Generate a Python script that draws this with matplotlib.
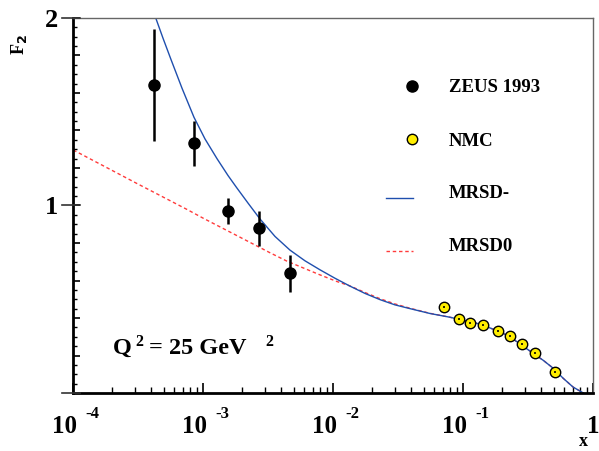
import numpy as np
import matplotlib
matplotlib.use("Agg")
import matplotlib.pyplot as plt
from matplotlib.transforms import blended_transform_factory

plt.rcParams['font.family'] = 'Liberation Serif'
plt.rcParams['font.weight'] = 'bold'

# ZEUS 1993 points
zeus_x = [4.2e-4, 8.5e-4, 1.56e-3, 2.7e-3, 4.7e-3]
zeus_f2 = [1.643, 1.332, 0.971, 0.878, 0.638]
zeus_err = [0.30, 0.12, 0.07, 0.095, 0.10]

# NMC points
nmc_x = [0.0715, 0.093, 0.113, 0.143, 0.185, 0.231, 0.284, 0.360, 0.513]
nmc_f2 = [0.457, 0.396, 0.372, 0.362, 0.332, 0.306, 0.262, 0.212, 0.111]
nmc_err = [0.006] * 9

# MRSD- curve
mrsdm_x = [4.33e-4, 4.92e-4, 5.67e-4, 6.90e-4, 8.53e-4, 1.036e-3, 1.281e-3,
           1.557e-3, 1.816e-3, 2.219e-3, 2.745e-3, 3.580e-3, 4.669e-3,
           6.090e-3, 7.943e-3, 1.036e-2, 1.351e-2, 1.763e-2, 2.298e-2,
           2.998e-2, 3.910e-2, 5.573e-2, 7.943e-2, 0.1274, 0.1613, 0.2042,
           0.2424, 0.2909, 0.3455, 0.4147, 0.4923, 0.5908, 0.7017, 0.8421]
mrsdm_f2 = [2.0, 1.893, 1.779, 1.625, 1.47, 1.355, 1.25, 1.16, 1.095, 1.013,
            0.928, 0.835, 0.762, 0.705, 0.657, 0.612, 0.570, 0.531, 0.498,
            0.470, 0.450, 0.424, 0.404, 0.372, 0.347, 0.318, 0.288, 0.249,
            0.212, 0.174, 0.133, 0.078, 0.032, 0.0]

# MRSD0 curve
mrsd0_x = [1.005e-4, 1.351e-4, 1.763e-4, 2.298e-4, 3.090e-4, 4.124e-4,
           5.573e-4, 7.530e-4, 1.005e-3, 1.351e-3, 1.816e-3, 2.424e-3,
           3.276e-3, 4.427e-3, 5.908e-3, 7.943e-3, 1.068e-2, 1.351e-2,
           1.763e-2, 2.298e-2, 2.998e-2, 3.910e-2, 5.573e-2, 7.943e-2,
           0.1274, 0.1613, 0.2042, 0.2424, 0.2909, 0.3455, 0.4147, 0.4923,
           0.5908, 0.7017, 0.8421]
mrsd0_f2 = [1.296, 1.249, 1.207, 1.165, 1.118, 1.073, 1.026, 0.979, 0.932,
            0.886, 0.840, 0.795, 0.748, 0.703, 0.667, 0.630, 0.595, 0.571,
            0.536, 0.503, 0.475, 0.452, 0.425, 0.404, 0.372, 0.347, 0.318,
            0.288, 0.249, 0.212, 0.174, 0.133, 0.078, 0.032, 0.0]

x_ticks = [1e-4, 1e-3, 1e-2, 1e-1, 1]
x_exps = ['-4', '-3', '-2', '-1', None]

blue = '#1f4fae'
red = '#ff3b3b'

fig = plt.figure(figsize=(5.99, 4.51), dpi=100)
ax = fig.add_axes([73 / 599, 58 / 451, 520 / 599, 375 / 451])

ax.plot(mrsd0_x, mrsd0_f2, color=red, lw=1.0, ls=(0, (2.5, 2)), zorder=2)
ax.plot(mrsdm_x, mrsdm_f2, color=blue, lw=1.0, zorder=2)

ax.errorbar(zeus_x, zeus_f2, yerr=zeus_err, fmt='o', color='black',
            ms=8, lw=1.8, capsize=0, zorder=4)
ax.plot(nmc_x, nmc_f2, 'o', mfc='#ffee00', mec='black', mew=1.0, ms=7.5, zorder=4)
ax.errorbar(nmc_x, nmc_f2, yerr=nmc_err, fmt='none', ecolor='black',
            lw=1.2, capsize=0, zorder=5)

ax.set_xscale('log')
ax.set_xlim(1e-4, 1)
ax.set_ylim(0, 2)

# frame
for s in ['left', 'bottom']:
    ax.spines[s].set_linewidth(2)
    ax.spines[s].set_color('black')
for s in ['top', 'right']:
    ax.spines[s].set_linewidth(1)
    ax.spines[s].set_color('#666666')

# x ticks, labels drawn as "10" plus a raised exponent
ax.set_xticks(x_ticks)
ax.set_xticklabels([''] * len(x_ticks))
ax.xaxis.set_minor_locator(matplotlib.ticker.LogLocator(base=10, subs=np.arange(2, 10)))
ax.xaxis.set_minor_formatter(matplotlib.ticker.NullFormatter())
ax.tick_params(axis='x', which='major', direction='in', length=7, width=1.2, top=False)
ax.tick_params(axis='x', which='minor', direction='in', length=4, width=1.0, top=False)
for xt, ex in zip(x_ticks, x_exps):
    fx = (np.log10(xt) + 4) / 4
    if ex is None:
        ax.text(fx, -40 / 375, '1', transform=ax.transAxes, fontsize=18,
                fontweight='bold', ha='center', va='baseline')
    else:
        ax.text(fx + 4 / 520, -40 / 375, '10', transform=ax.transAxes, fontsize=18,
                fontweight='bold', ha='right', va='baseline')
        ax.text(fx + 12 / 520, -24.7 / 375, ex, transform=ax.transAxes, fontsize=12,
                fontweight='bold', ha='left', va='baseline')

# y ticks
yt = np.arange(0, 2.01, 0.2)
ax.set_yticks(yt)
ax.set_yticklabels(['1' if abs(v - 1) < 1e-6 else '2' if abs(v - 2) < 1e-6 else ''
                    for v in yt])
ax.yaxis.set_minor_locator(matplotlib.ticker.MultipleLocator(0.05))
ax.tick_params(axis='y', which='major', direction='in', length=5, width=1.2,
               labelsize=19, pad=10.5, right=False)
ax.tick_params(axis='y', which='minor', direction='in', length=3, width=1.0, right=False)
tr = blended_transform_factory(ax.transAxes, ax.transData)
for v in [0, 1, 2]:
    ax.plot([-11 / 520, 7 / 520], [v, v], color='#333333', lw=1.2,
            transform=tr, clip_on=False, zorder=6)

# legend drawn by hand
ax.plot([0.652], [0.819], 'o', color='black', ms=8, transform=ax.transAxes)
ax.plot([0.652], [0.677], 'o', mfc='#ffee00', mec='black', mew=1.0, ms=7.5,
        transform=ax.transAxes)
ax.plot([0.602, 0.654], [0.521, 0.521], color=blue, lw=1.0, transform=ax.transAxes)
ax.plot([0.602, 0.654], [0.379, 0.379], color=red, lw=1.0, ls=(0, (2.5, 2)),
        transform=ax.transAxes)
for yb, lab in [(0.802, 'ZEUS 1993'), (0.659, 'NMC'), (0.521, 'MRSD-'), (0.379, 'MRSD0')]:
    ax.text(0.723, yb, lab, transform=ax.transAxes, fontsize=13.5,
            fontweight='bold', va='baseline', ha='left')

# Q^2 label, pieces placed in pixel positions
def fpos(px, py):
    return px / 599, 1 - py / 451

for px, py, s, fs in [(112.5, 354, 'Q', 17.5), (135, 346, '2', 11.5),
                      (149, 354, '= 25 GeV', 17.5), (265, 346, '2', 11.5)]:
    fig.text(*fpos(px, py), s, fontsize=fs, fontweight='bold',
             ha='left', va='baseline')

fig.text(*fpos(19, 45), r'F$_{2}$', rotation=90, fontsize=13,
         fontweight='bold', va='center', ha='center')
fig.text(*fpos(583, 441), 'x', fontsize=13, fontweight='bold',
         va='center', ha='center')

fig.savefig('out.png', dpi=100)
